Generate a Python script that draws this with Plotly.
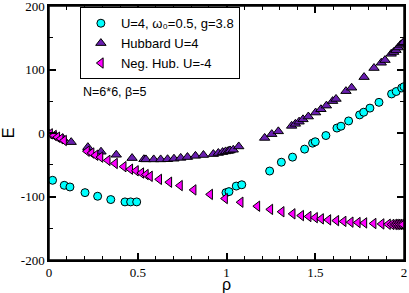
import plotly.graph_objects as go

# Holstein-Hubbard (circles)
hh_x = [0.02, 0.086, 0.118, 0.203, 0.274, 0.348, 0.428, 0.46, 0.494,
        0.997, 1.014, 1.055, 1.086,
        1.243, 1.309, 1.372, 1.44, 1.485, 1.5,
        1.56, 1.622, 1.645, 1.688, 1.75, 1.773, 1.808, 1.859, 1.93, 1.956, 1.987, 2.0]
hh_y = [-74.5, -82.4, -85, -93.9, -99.6, -104.8, -108.5, -108.5, -108.5,
        -93.9, -92.3, -83.6, -81.5,
        -59.9, -46, -38, -25.4, -16, -13.8,
        -4, 7.8, 10.7, 19, 28.5, 32.7, 39.2, 48.3, 61.5, 65.3, 70.9, 73]

# Hubbard U=4 (up triangles)
hub_x = [0.0, 0.04, 0.08, 0.125, 0.219, 0.293, 0.379, 0.468, 0.535, 0.546, 0.59, 0.629,
         0.668, 0.704, 0.742, 0.78, 0.825, 0.87, 0.926, 0.954, 0.978, 0.995, 1.01, 1.02,
         1.038, 1.069,
         1.215, 1.255, 1.292, 1.367, 1.388, 1.409, 1.431, 1.461, 1.502, 1.532, 1.563,
         1.598, 1.617, 1.673, 1.705, 1.775, 1.831, 1.872, 1.893, 1.928, 1.942, 1.955,
         1.968, 1.98, 1.992, 1.998]
hub_y = [-1, -5, -9, -14.4, -22.3, -29.5, -34.3, -39.5, -41.3, -41.6, -41.6, -41.6,
         -41.3, -40.5, -39.2, -37.9, -36, -34.7, -33.2, -31.5, -30.1, -29, -28.3, -27.5,
         -26.4, -21.2,
         -7.8, -1.8, 2.6, 11.2, 14.4, 17.8, 21.5, 25.9, 32.2, 37.4, 43.1,
         50.2, 53.6, 65.9, 71.3, 88, 102.3, 110.6, 114.8, 124.7, 127.5, 130.5,
         134.6, 138.8, 141, 143]

# Negative-U Hubbard U=-4 (left triangles)
neg_x = [0.006, 0.028, 0.047, 0.066, 0.085,
         0.214, 0.24, 0.262, 0.29, 0.331, 0.372, 0.421, 0.458, 0.49, 0.52, 0.546, 0.569,
         0.621, 0.678, 0.738, 0.815, 0.908, 0.992, 1.08, 1.174, 1.247, 1.311, 1.373,
         1.421, 1.463, 1.499, 1.533, 1.574, 1.619, 1.66, 1.7, 1.74, 1.777, 1.829, 1.874,
         1.91, 1.93, 1.945, 1.955, 1.965, 1.975, 1.985, 1.995]
neg_y = [-1.3, -3.9, -6.6, -9.1, -11.8,
         -28.7, -31.5, -35, -38, -43.1, -48, -53, -57, -59.5, -63, -65.5, -68.2,
         -73, -77.5, -82.8, -89.6, -96.7, -103.2, -109, -115.3, -120.3, -124, -127.3,
         -130, -131.5, -133.3, -135.2, -136.8, -138, -139.2, -140.4, -141, -141.6, -142.5, -143.2,
         -143.7, -144, -144, -144, -144, -144, -144, -144]

x_ticks = [0, 0.5, 1, 1.5, 2]
x_labels = ["0", "0.5", "1", "1.5", "2"]
y_ticks = [-200, -100, 0, 100, 200]
y_labels = ["-200", "-100", "0", "100", "200"]

line = dict(color="black", width=1)
fig = go.Figure()
fig.add_trace(go.Scatter(x=hh_x, y=hh_y, mode="markers", name="U=4, ω₀=0.5, g=3.8",
                         marker=dict(symbol="circle", size=8, color="#00FFFF", line=line)))
fig.add_trace(go.Scatter(x=hub_x, y=hub_y, mode="markers", name="Hubbard U=4",
                         marker=dict(symbol="triangle-up", size=9, color="#6A1FB0", line=line)))
fig.add_trace(go.Scatter(x=neg_x, y=neg_y, mode="markers", name="Neg. Hub. U=-4",
                         marker=dict(symbol="triangle-left", size=9, color="#FF00FF", line=line)))

axis_common = dict(showgrid=False, zeroline=False, showline=True, linecolor="black", linewidth=1.5,
                   mirror="allticks", ticks="inside", ticklen=7, tickwidth=1.5, tickcolor="black",
                   ticklabeloverflow="allow",
                   tickfont=dict(family="Liberation Serif", size=13, color="black"))
fig.update_xaxes(range=[0, 2], tickvals=x_ticks, ticktext=x_labels,
                 minor=dict(dtick=0.1, tick0=0, ticks="inside", ticklen=4, tickwidth=1, tickcolor="black"),
                 title=dict(text="ρ", font=dict(family="Liberation Sans", size=16, color="black"), standoff=5),
                 **axis_common)
fig.update_yaxes(range=[-200, 200], tickvals=y_ticks, ticktext=y_labels,
                 minor=dict(dtick=50, tick0=0, ticks="inside", ticklen=4, tickwidth=1, tickcolor="black"),
                 title=dict(text="E", font=dict(family="Liberation Sans", size=16, color="black"), standoff=4),
                 **axis_common)

# plot frame
fig.add_shape(type="rect", xref="paper", yref="paper", x0=0, y0=0, x1=1, y1=1,
              line=dict(color="black", width=1.5), layer="above")

fig.add_annotation(x=0.09, y=0.66, xref="paper", yref="paper", xanchor="left", yanchor="middle",
                   text="N=6*6, β=5", showarrow=False,
                   font=dict(family="Liberation Sans", size=12.5, color="black"))

fig.update_layout(width=409, height=293, margin=dict(l=49, r=5, t=6, b=33, autoexpand=False),
                  plot_bgcolor="white", paper_bgcolor="white", showlegend=True,
                  legend=dict(x=0.087, y=0.995, xanchor="left", yanchor="top",
                              bgcolor="white", bordercolor="black", borderwidth=1,
                              font=dict(family="Liberation Sans", size=13, color="black"),
                              itemsizing="trace", tracegroupgap=0))
fig.write_html("out.html", config={"displayModeBar": False},
               post_script="document.body.style.margin='0';document.body.style.overflow='hidden';")
